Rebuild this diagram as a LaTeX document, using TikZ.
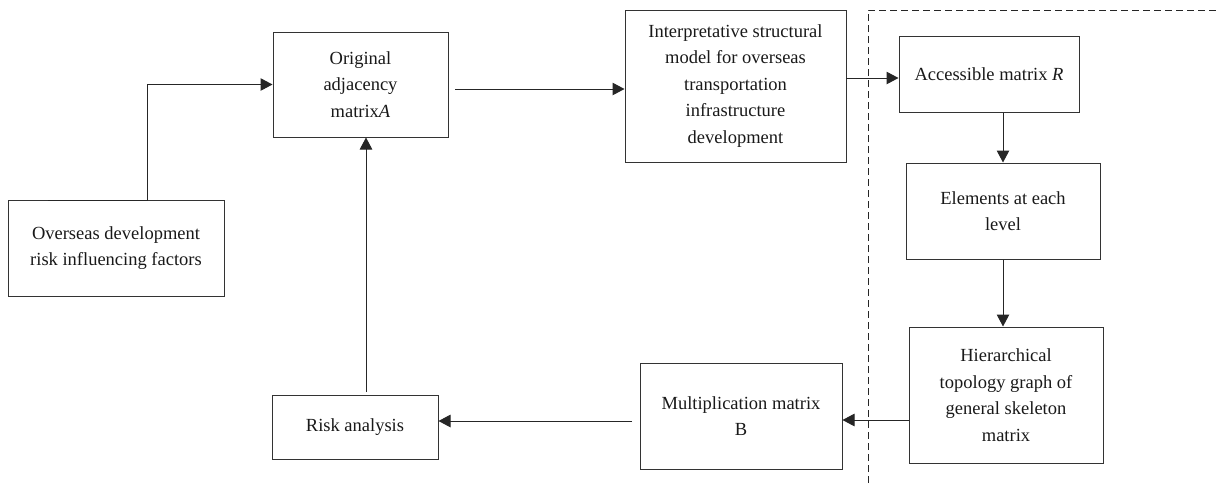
\documentclass[tikz,border=0pt]{standalone}
\usepackage{fontspec}
\setmainfont{Liberation Serif}
\usetikzlibrary{arrows.meta}
\begin{document}
\begin{tikzpicture}[x=1pt,y=-1pt,
  box/.style={draw=black!80, line width=1pt, align=center, inner sep=0pt,
    font=\fontsize{18.5}{26.5}\selectfont, text=black!90},
  conn/.style={draw=black!85, line width=1pt, -{Triangle[length=12pt,width=12.5pt]}},
  sep/.style={draw=black!85, line width=0.9pt, dash pattern=on 7pt off 4pt}]
\useasboundingbox (0,0) rectangle (1216,483);
\node[box, minimum width=216pt, minimum height=96pt] (over) at (116,248)
  {Overseas development\\risk influencing factors};
\node[box, minimum width=175pt, minimum height=105pt] (orig) at (360.5,84.5)
  {Original\\adjacency\\matrix\textit{A}};
\node[box, minimum width=221pt, minimum height=152pt] (ism) at (735.5,86)
  {Interpretative structural\\model for overseas\\transportation\\infrastructure\\development};
\node[box, minimum width=180pt, minimum height=76pt] (acc) at (989,74)
  {Accessible matrix \textit{R}};
\node[box, minimum width=194pt, minimum height=96pt] (elem) at (1003,211)
  {Elements at each\\level};
\node[box, minimum width=194pt, minimum height=136pt] (hier) at (1006,395)
  {Hierarchical\\topology graph of\\general skeleton\\matrix};
\node[box, minimum width=202pt, minimum height=106pt] (mult) at (741,416)
  {Multiplication matrix\\B};
\node[box, minimum width=166pt, minimum height=64pt] (risk) at (355,427)
  {Risk analysis};
% separator
\coordinate (d1) at (868,483);
\coordinate (d2) at (868,10);
\coordinate (d3) at (1216,10);
\draw[sep] (d1) -- (d2) -- (d3);
% connectors
\coordinate (s1) at (48,200);
\coordinate (s2) at (147,200);
\draw[conn] (s1) -- (s2) |- (orig.west);
\coordinate (y2) at (455,89);
\draw[conn] (y2) -- (y2 -| ism.west);
\coordinate (y3) at (846,78);
\draw[conn] (y3) -- (y3 -| acc.west);
\draw[conn] (elem.north |- acc.south) -- (elem.north);
\draw[conn] (elem.south) -- (elem.south |- hier.north);
\coordinate (y4) at (909,420);
\draw[conn] (y4) -- (y4 -| mult.east);
\coordinate (y5) at (632,421);
\draw[conn] (y5) -- (y5 -| risk.east);
\coordinate (a1) at (366,392);
\draw[conn] (a1) -- (a1 |- orig.south);
\end{tikzpicture}
\end{document}
